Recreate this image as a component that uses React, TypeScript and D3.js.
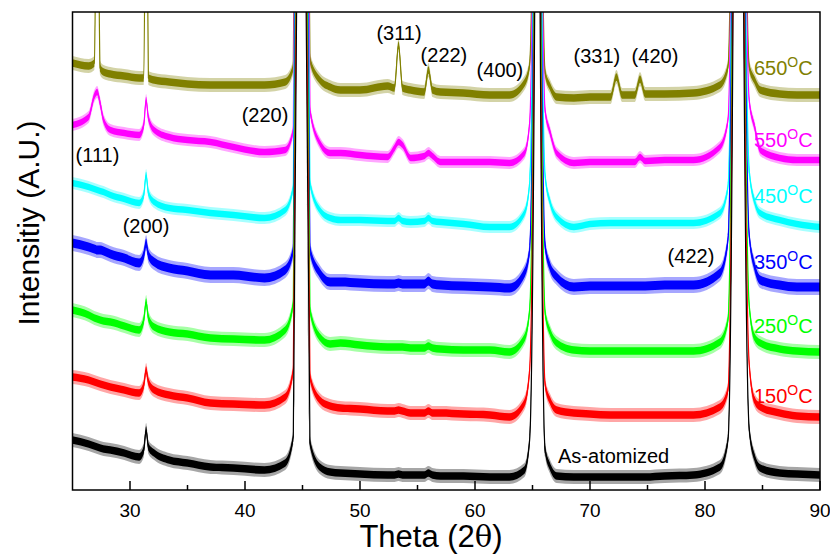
import React, { useEffect, useRef } from "react";
import * as d3 from "d3";

// 2-theta positions (deg) shared by every scan
const twoTheta = [
  25, 26.4, 26.9, 27.15, 27.4, 27.7, 28.3, 29.5, 30.8, 31.2,
  31.4, 31.6, 32.1, 33.4, 35, 37, 39, 41.7, 43.5, 44.2,
  44.5, 44.9, 45.3, 45.65, 46.5, 47.4, 48.3, 50, 52.4, 53.0,
  53.35, 53.7, 54.4, 55.6, 55.95, 56.3, 57, 59, 61.3, 63,
  64.3, 64.75, 65.2, 65.4, 65.65, 66.1, 66.5, 67.1, 68.6, 70,
  71.8, 72.3, 72.8, 73.9, 74.35, 74.8, 76.5, 79, 81.3, 82.0,
  82.45, 82.9, 83.35, 83.85, 84.3, 84.8, 86.5, 88, 90,
];

// intensity (A.U.) of each scan, before stacking
const asAtomized = [
  50, 46, 44, 43, 42, 41, 40, 37, 33, 40,
  60, 43, 37, 30, 27, 23, 22, 20, 27, 53,
  500, 3000, 500, 47, 23, 18, 17, 16, 15, 15,
  16, 15, 15, 15, 17, 15, 14, 14, 13, 13,
  20, 50, 500, 3000, 500, 40, 24, 14, 13, 13,
  13, 13, 13, 13, 13, 13, 14, 15, 23, 50,
  500, 3000, 500, 60, 33, 22, 17, 16, 15,
];
const at150 = [
  48, 45, 43, 42, 41, 40, 38, 35, 32, 40,
  55, 43, 35, 30, 27, 22, 21, 20, 28, 55,
  500, 3000, 500, 48, 25, 19, 17, 16, 14, 14,
  15, 14, 12, 12, 14, 12, 12, 11, 10, 8,
  22, 55, 500, 3000, 500, 40, 25, 15, 12, 11,
  10, 10, 10, 10, 10, 10, 10, 10, 18, 35,
  500, 3000, 500, 60, 25, 18, 12, 9, 8,
];
const at250 = [
  51, 46, 43, 42, 41, 40, 39, 35, 31, 41,
  59, 43, 34, 29, 27, 23, 22, 21, 31, 58,
  500, 3000, 500, 51, 24, 17, 18, 16, 14, 14,
  14, 14, 13, 13, 15, 13, 12, 11, 11, 9,
  23, 51, 500, 3000, 500, 48, 30, 18, 11, 10,
  10, 10, 10, 10, 10, 10, 10, 10, 19, 41,
  500, 3000, 500, 55, 24, 18, 12, 10, 9,
];
const at350 = [
  53, 49, 47, 46, 46, 45, 42, 38, 33, 41,
  53, 41, 34, 28, 25, 21, 21, 18, 26, 46,
  500, 3000, 500, 46, 23, 14, 14, 13, 12, 12,
  13, 12, 12, 12, 15, 12, 11, 10, 9, 8,
  23, 46, 500, 3000, 500, 50, 30, 19, 9, 10,
  10, 10, 10, 10, 10, 10, 11, 11, 23, 56,
  500, 3000, 500, 60, 30, 16, 11, 9, 9,
];
const at450 = [
  53, 49, 47, 46, 45, 44, 41, 37, 33, 41,
  61, 43, 34, 28, 26, 23, 21, 18, 26, 49,
  500, 3000, 500, 53, 26, 18, 16, 16, 15, 15,
  18, 15, 14, 15, 18, 15, 14, 12, 9, 9,
  23, 53, 500, 3000, 500, 60, 35, 19, 9, 12,
  13, 13, 13, 13, 13, 13, 13, 13, 23, 49,
  500, 3000, 500, 65, 35, 23, 16, 12, 9,
];
const at550 = [
  41, 49, 70, 74, 63, 46, 36, 33, 31, 41,
  66, 48, 36, 29, 26, 24, 19, 14, 16, 36,
  500, 3000, 500, 56, 23, 13, 13, 11, 9, 18,
  24, 21, 8, 10, 13, 10, 4, 4, 4, 3,
  13, 43, 500, 3000, 500, 55, 35, 13, 3, 4,
  4, 4, 4, 4, 9, 5, 6, 6, 19, 46,
  500, 3000, 500, 65, 40, 16, 8, 6, 6,
];
const at650 = [
  45, 42, 45, 300, 40, 36, 34, 32, 30, 30,
  300, 30, 28, 26, 24, 23, 23, 23, 26, 41,
  500, 3000, 500, 48, 28, 21, 18, 18, 22, 20,
  63, 20, 18, 16, 38, 18, 16, 15, 13, 13,
  25, 43, 500, 3000, 500, 35, 22, 11, 10, 11,
  11, 31, 13, 13, 29, 14, 14, 15, 23, 41,
  500, 3000, 500, 41, 28, 18, 14, 13, 13,
];

const scans = [asAtomized, at150, at250, at350, at450, at550, at650];
const scanTemps = ["", "150", "250", "350", "450", "550", "650"];
const scanColors = ["#000000", "#ff0000", "#00ff00", "#0000ff", "#00ffff", "#ff00ff", "#808000"];
const stackOffsets = [0, 65, 129, 194, 254, 324, 382];
const noiseHalfWidth = [7, 7, 7, 8, 6, 6, 7];
// where the temperature labels sit (intensity of the baseline)
const tempLabelLevel = [27, 87, 157, 221, 287, 343, 415];

const peakLabels = ["(111)", "(200)", "(220)", "(311)", "(222)", "(400)", "(331)", "(420)", "(422)"];
const peakLabelTheta = [27.17, 31.39, 41.74, 53.39, 57.3, 62.17, 70.6, 75.65, 78.78];
const peakLabelLevel = [328, 257, 368, 450, 428, 413, 427, 427, 227];

const xTicks = [30, 40, 50, 60, 70, 80, 90];
const xMinorTicks = [35, 45, 55, 65, 75, 85];

const FONT = "'Liberation Sans', Arial, sans-serif";

const App = () => {
  const svgRef = useRef(null);

  useEffect(() => {
    const width = 830;
    const height = 554;
    const margin = { top: 12, right: 10, bottom: 64, left: 72.5 };

    const svg = d3.select(svgRef.current);
    svg.selectAll("*").remove();
    svg.attr("width", width).attr("height", height);

    const x = d3.scaleLinear()
      .domain([25, 90])
      .range([margin.left, width - margin.right]);

    const y = d3.scaleLinear()
      .domain([0, 478])
      .range([height - margin.bottom, margin.top]);

    svg.append("defs").append("clipPath")
      .attr("id", "plot-clip")
      .append("rect")
      .attr("x", margin.left)
      .attr("y", margin.top)
      .attr("width", x(90) - x(25))
      .attr("height", y(0) - y(478));

    const plot = svg.append("g").attr("clip-path", "url(#plot-clip)");

    // draw top scan first so the as-atomized trace ends up on top
    for (let i = scans.length - 1; i >= 0; i--) {
      const pts = twoTheta.map((t, j) => ({ t, v: scans[i][j] + stackOffsets[i] }));
      const n = noiseHalfWidth[i];

      const band = (k) => d3.area()
        .x(d => x(d.t))
        .y0(d => y(d.v - n * k))
        .y1(d => y(d.v + n * k))
        .curve(d3.curveMonotoneX);

      plot.append("path")
        .datum(pts)
        .attr("d", band(1))
        .attr("fill", scanColors[i])
        .attr("opacity", 0.35);

      plot.append("path")
        .datum(pts)
        .attr("d", band(0.55))
        .attr("fill", scanColors[i]);

      plot.append("path")
        .datum(pts)
        .attr("d", d3.line().x(d => x(d.t)).y(d => y(d.v)).curve(d3.curveMonotoneX))
        .attr("fill", "none")
        .attr("stroke", scanColors[i])
        .attr("stroke-width", 1.2);
    }

    // temperature labels
    scans.forEach((_, i) => {
      if (i === 0) {
        svg.append("text")
          .attr("x", x(67.22))
          .attr("y", y(tempLabelLevel[i]))
          .style("font-family", FONT)
          .style("font-size", "20px")
          .attr("fill", "#000")
          .text("As-atomized");
        return;
      }
      const t = svg.append("text")
        .attr("x", x(84.26))
        .attr("y", y(tempLabelLevel[i]))
        .style("font-family", FONT)
        .style("font-size", "20px")
        .attr("fill", scanColors[i]);
      t.append("tspan").text(scanTemps[i]);
      t.append("tspan").attr("dy", -8).style("font-size", "14px").text("O");
      t.append("tspan").attr("dy", 8).text("C");
    });

    // Miller index labels
    peakLabels.forEach((lab, i) => {
      svg.append("text")
        .attr("x", x(peakLabelTheta[i]))
        .attr("y", y(peakLabelLevel[i]))
        .attr("text-anchor", "middle")
        .style("font-family", FONT)
        .style("font-size", "20px")
        .attr("fill", "#000")
        .text(lab);
    });

    // ticks point inwards from the bottom axis
    const axisY = y(0);
    xTicks.forEach(t => {
      svg.append("line")
        .attr("x1", x(t)).attr("x2", x(t))
        .attr("y1", axisY).attr("y2", axisY - 9)
        .attr("stroke", "#000").attr("stroke-width", 1.5);
      svg.append("text")
        .attr("x", x(t))
        .attr("y", axisY + 27)
        .attr("text-anchor", "middle")
        .style("font-family", FONT)
        .style("font-size", "19px")
        .text(t);
    });
    xMinorTicks.forEach(t => {
      svg.append("line")
        .attr("x1", x(t)).attr("x2", x(t))
        .attr("y1", axisY).attr("y2", axisY - 5)
        .attr("stroke", "#000").attr("stroke-width", 1.5);
    });

    // frame
    svg.append("rect")
      .attr("x", margin.left)
      .attr("y", margin.top)
      .attr("width", x(90) - x(25))
      .attr("height", y(0) - y(478))
      .attr("fill", "none")
      .attr("stroke", "#000")
      .attr("stroke-width", 1.5);

    // axis titles
    const xt = svg.append("text")
      .attr("x", 431)
      .attr("y", 547)
      .attr("text-anchor", "middle")
      .style("font-family", FONT)
      .style("font-size", "31px");
    xt.append("tspan").text("Theta (2");
    xt.append("tspan").style("font-family", "'DejaVu Serif', serif").style("font-size", "29px").text("θ");
    xt.append("tspan").text(")");

    svg.append("text")
      .attr("transform", "translate(39,223) rotate(-90)")
      .attr("text-anchor", "middle")
      .style("font-family", FONT)
      .style("font-size", "30px")
      .text("Intensitiy (A.U.)");
  }, []);

  return (
    <div style={{ position: "absolute", left: 0, top: 0, width: 830, height: 554, background: "#fff" }}>
      <svg ref={svgRef} style={{ display: "block" }}></svg>
    </div>
  );
};

export default App;
